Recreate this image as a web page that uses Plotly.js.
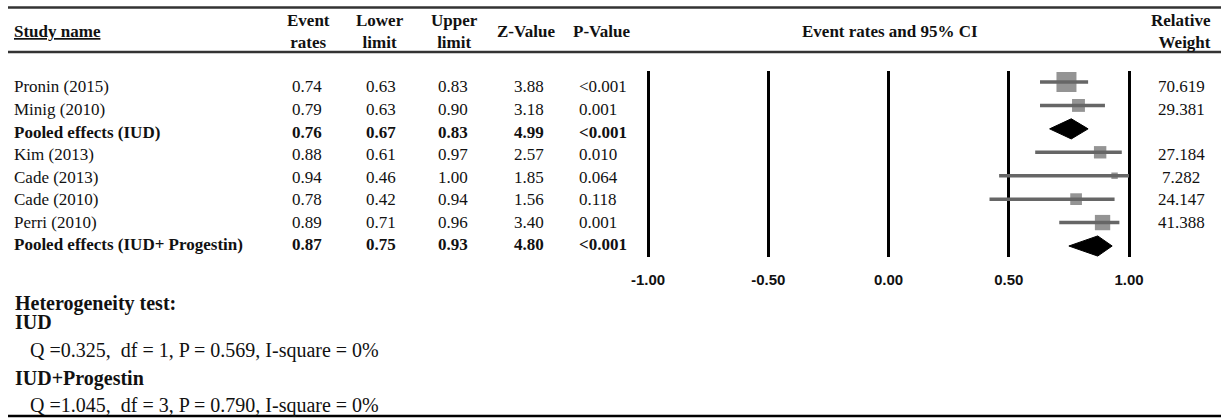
<!DOCTYPE html>
<html>
<head>
<meta charset="utf-8">
<script src="https://cdn.plot.ly/plotly-3.0.1.min.js"></script>
<style>html,body{margin:0;padding:0;background:#fff;}#chart{width:1223px;height:418px;}</style>
</head>
<body>
<div id="chart"></div>
<script>
// ---- data ----
const studies = ['Pronin (2015)', 'Minig (2010)', 'Pooled effects (IUD)', 'Kim (2013)', 'Cade (2013)', 'Cade (2010)', 'Perri (2010)', 'Pooled effects (IUD+ Progestin)'];
const eventRates = [0.74, 0.79, 0.76, 0.88, 0.94, 0.78, 0.89, 0.87];
const lowerLimits = [0.63, 0.63, 0.67, 0.61, 0.46, 0.42, 0.71, 0.75];
const upperLimits = [0.83, 0.90, 0.83, 0.97, 1.00, 0.94, 0.96, 0.93];
const zValues = ['3.88', '3.18', '4.99', '2.57', '1.85', '1.56', '3.40', '4.80'];
const pValues = ['<0.001', '0.001', '<0.001', '0.010', '0.064', '0.118', '0.001', '<0.001'];
const relWeights = [70.619, 29.381, null, 27.184, 7.282, 24.147, 41.388, null];
const isPooled = [false, false, true, false, false, false, false, true];
const tickVals = [-1, -0.5, 0, 0.5, 1];
const tickText = ['-1.00', '-0.50', '0.00', '0.50', '1.00'];
const hetLines = [
  {text: 'Heterogeneity test:', bold: true},
  {text: 'IUD', bold: true},
  {text: 'Q =0.325,  df = 1, P = 0.569, I-square = 0%', bold: false},
  {text: 'IUD+Progestin', bold: true},
  {text: 'Q =1.045,  df = 3, P = 0.790, I-square = 0%', bold: false}
];

// ---- layout helpers ----
const W = 1223, H = 418;
const px = p => p / W;
const py = p => 1 - p / H;
const SERIF = 'Liberation Serif, Times New Roman, serif';
const SANS = 'Liberation Sans, Arial, sans-serif';
const GRAY = '#666666';
const INK = '#111';

const rows = studies.map((_, i) => i);
const studyIdx = rows.filter(i => !isPooled[i]);
const pooledIdx = rows.filter(i => isPooled[i]);

const traces = [];
// study squares with CI
traces.push({
  type: 'scatter', mode: 'markers', xaxis: 'x', yaxis: 'y',
  x: studyIdx.map(i => eventRates[i]),
  y: studyIdx.map(i => i),
  marker: {symbol: 'square', color: GRAY, size: studyIdx.map(i => 2.38 * Math.sqrt(relWeights[i])), line: {width: 0}},
  error_x: {type: 'data', symmetric: false,
    array: studyIdx.map(i => upperLimits[i] - eventRates[i]),
    arrayminus: studyIdx.map(i => eventRates[i] - lowerLimits[i]),
    color: GRAY, thickness: 3.5, width: 0},
  hoverinfo: 'skip'
});
// pooled diamonds
const DH = 0.43;
pooledIdx.forEach(i => {
  traces.push({
    type: 'scatter', mode: 'lines', fill: 'toself', xaxis: 'x', yaxis: 'y',
    x: [lowerLimits[i], eventRates[i], upperLimits[i], eventRates[i], lowerLimits[i]],
    y: [i, i - DH, i, i + DH, i],
    fillcolor: '#000', line: {color: '#000', width: 1}, hoverinfo: 'skip'
  });
});
// dummy trace to anchor the text axis
traces.push({type: 'scatter', mode: 'markers', x: [null], y: [null], xaxis: 'x', yaxis: 'y2', hoverinfo: 'skip'});

const ann = [];
const cell = (x, i, text, anchor, bold) => ann.push({
  xref: 'paper', yref: 'y2', x: px(x), y: i, xanchor: anchor, yanchor: 'middle',
  text: bold ? '<b>' + text + '</b>' : text, showarrow: false,
  font: {family: SERIF, size: 17, color: INK}
});
rows.forEach(i => {
  const b = isPooled[i];
  cell(12, i, studies[i], 'left', b);
  cell(307, i, eventRates[i].toFixed(2), 'center', b);
  cell(381, i, lowerLimits[i].toFixed(2), 'center', b);
  cell(453, i, upperLimits[i].toFixed(2), 'center', b);
  cell(529, i, zValues[i], 'center', b);
  cell(577, i, pValues[i].replace('<', '&lt;'), 'left', b);
  if (relWeights[i] !== null) cell(1181, i, relWeights[i].toFixed(3), 'center', false);
});
// headers
const head = (x, y, text, anchor) => ann.push({
  xref: 'paper', yref: 'paper', x: px(x), y: py(y), xanchor: anchor, yanchor: 'middle',
  text: '<b>' + text + '</b>', showarrow: false, align: anchor === 'right' ? 'right' : 'center',
  font: {family: SERIF, size: 17, color: INK}
});
head(12, 32, '<u>Study name</u>', 'left');
head(308, 32, 'Event<br>rates', 'center');
head(380, 32, 'Lower<br>limit', 'center');
head(454, 32, 'Upper<br>limit', 'center');
head(526, 32, 'Z-Value', 'center');
head(601, 32, 'P-Value', 'center');
head(890, 32, 'Event rates and 95% CI', 'center');
head(1213, 32, 'Relative<br>Weight', 'right');
// heterogeneity block
const hetY = [303, 322, 350, 378, 405];
const hetX = [13, 13, 28, 13, 28];
hetLines.forEach((l, k) => ann.push({
  xref: 'paper', yref: 'paper', x: px(hetX[k]), y: py(hetY[k]), xanchor: 'left', yanchor: 'middle',
  text: l.bold ? '<b>' + l.text + '</b>' : l.text, showarrow: false,
  font: {family: SERIF, size: 20, color: INK}
}));

const hline = (y, w, c) => ({type: 'line', xref: 'paper', yref: 'paper', x0: px(8), x1: px(1221), y0: py(y), y1: py(y), line: {color: c, width: w}});

const pxPerUnit = (1129 - 648) / 2;
const xr0 = -1 - 648 / pxPerUnit;
const xr1 = xr0 + W / pxPerUnit;
// marker rows: y=0 -> 82px, y=7 -> 246px ; plot area 71..257px
const mUnit = (246 - 82) / 7;
const yr0 = (71 - 82) / mUnit, yr1 = yr0 + 186 / mUnit;
// text rows: y=0 -> 87px, y=7 -> 245px
const tUnit = (245 - 87) / 7;
const tr0 = (71 - 87) / tUnit, tr1 = tr0 + 186 / tUnit;

const layout = {
  width: W, height: H, margin: {l: 0, r: 0, t: 0, b: 0},
  paper_bgcolor: '#fff', plot_bgcolor: 'rgba(0,0,0,0)', showlegend: false,
  xaxis: {domain: [0, 1], range: [xr0, xr1], tickvals: tickVals, ticktext: tickText,
    showgrid: true, gridcolor: '#000', gridwidth: 3, zeroline: false, showline: false,
    ticks: 'outside', ticklen: 9, tickcolor: 'rgba(0,0,0,0)',
    tickfont: {family: SANS, size: 15, color: INK, weight: 'bold'}, fixedrange: true},
  yaxis: {domain: [py(257), py(71)], range: [yr1, yr0], visible: false, fixedrange: true},
  yaxis2: {overlaying: 'y', range: [tr1, tr0], visible: false, fixedrange: true},
  annotations: ann,
  shapes: [hline(7.5, 2.5, '#333'), hline(52, 2.5, '#333'), hline(416, 2.5, '#000')]
};

Plotly.newPlot('chart', traces, layout, {staticPlot: true, displayModeBar: false});
</script>
</body>
</html>
